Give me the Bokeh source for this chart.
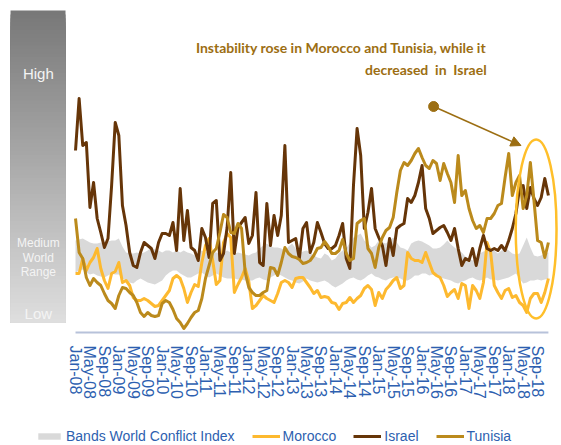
from bokeh.plotting import figure
from bokeh.layouts import column
from bokeh.models import Range1d, FixedTicker, Legend, LegendItem, Label, Arrow, NormalHead
from bokeh.embed import file_html
from bokeh.resources import INLINE

tick_labels = ["Jan-08", "May-08", "Sep-08", "Jan-09", "May-09", "Sep-09", "Jan-10", "May-10", "Sep-10",
               "Jan-11", "May-11", "Sep-11", "Jan-12", "May-12", "Sep-12", "Jan-13", "May-13", "Sep-13",
               "Jan-14", "May-14", "Sep-14", "Jan-15", "May-15", "Sep-15", "Jan-16", "May-16", "Sep-16",
               "Jan-17", "May-17", "Sep-17", "Jan-18", "May-18", "Sep-18"]

israel = [180, 232, 185, 188, 123, 148, 112, 98, 83, 92, 145, 208, 195, 125, 105, 78, 65, 63, 78, 88,
          85, 82, 72, 88, 97, 97, 95, 108, 80, 142, 90, 120, 83, 80, 70, 102, 93, 73, 127, 130,
          70, 77, 103, 158, 77, 103, 108, 113, 87, 95, 138, 68, 65, 127, 85, 115, 95, 115, 185, 88,
          90, 92, 72, 102, 108, 78, 88, 108, 98, 87, 82, 82, 85, 95, 107, 72, 62, 145, 202, 175,
          102, 118, 142, 102, 93, 85, 65, 92, 75, 102, 105, 107, 132, 128, 135, 148, 165, 122, 112, 97,
          100, 103, 105, 98, 90, 102, 82, 65, 72, 70, 82, 65, 82, 95, 82, 80, 82, 80, 85, 80,
          90, 102, 117, 142, 145, 122, 143, 132, 125, 133, 152, 135]

morocco = [57, 57, 72, 60, 68, 73, 82, 62, 50, 42, 57, 59, 68, 48, 50, 45, 33, 30, 30, 32,
           30, 27, 24, 25, 30, 35, 40, 52, 55, 52, 42, 28, 38, 46, 44, 68, 85, 92, 70, 46,
           50, 88, 97, 93, 38, 46, 53, 62, 49, 22, 25, 30, 35, 32, 30, 28, 37, 48, 50, 48,
           43, 52, 53, 53, 48, 43, 37, 40, 33, 34, 33, 28, 27, 21, 27, 28, 33, 28, 32, 35,
           42, 45, 41, 25, 38, 32, 41, 45, 50, 53, 42, 45, 78, 72, 70, 70, 68, 78, 68, 58,
           55, 53, 45, 34, 38, 41, 32, 47, 45, 22, 45, 40, 32, 48, 88, 78, 45, 38, 32, 40,
           42, 33, 35, 28, 25, 18, 32, 37, 37, 28, 38, 52]

tunisia = [112, 78, 72, 53, 45, 52, 48, 45, 37, 30, 27, 22, 35, 43, 42, 38, 35, 28, 18, 14,
           18, 15, 14, 15, 27, 30, 28, 21, 12, 8, 2, 7, 13, 18, 20, 32, 52, 65, 78, 82,
           98, 116, 113, 98, 97, 107, 102, 58, 43, 38, 35, 35, 38, 40, 63, 62, 55, 68, 83, 77,
           74, 73, 71, 67, 68, 70, 75, 82, 83, 89, 84, 77, 77, 80, 91, 77, 70, 72, 107, 110,
           112, 82, 77, 63, 83, 93, 100, 103, 113, 138, 160, 168, 165, 170, 177, 182, 173, 165, 162, 170,
           167, 150, 167, 157, 148, 128, 175, 135, 140, 122, 110, 102, 105, 98, 112, 112, 117, 125, 127, 153,
           177, 135, 148, 155, 122, 135, 168, 130, 90, 88, 73, 88]

band_hi = [90, 91, 92, 90, 88, 87, 87, 88, 87, 89, 90, 90, 92, 84, 78, 77, 77, 78, 77, 78,
           80, 83, 81, 80, 78, 80, 80, 78, 80, 78, 80, 78, 77, 75, 78, 80, 78, 80, 79, 78,
           77, 78, 80, 78, 77, 78, 77, 76, 75, 77, 78, 82, 85, 87, 84, 83, 83, 82, 80, 84,
           87, 82, 77, 79, 80, 78, 75, 73, 72, 77, 75, 70, 72, 77, 80, 82, 88, 93, 95, 97,
           90, 87, 83, 85, 90, 88, 87, 90, 93, 88, 83, 82, 80, 87, 89, 90, 89, 87, 85, 82,
           82, 83, 86, 90, 86, 83, 80, 78, 74, 72, 70, 73, 77, 79, 80, 83, 80, 77, 80, 83,
           80, 77, 76, 77, 85, 93, 83, 75, 74, 75, 77, 78]

band_lo = [58, 60, 61, 58, 56, 57, 55, 54, 53, 55, 57, 56, 56, 52, 50, 48, 47, 50, 52, 50,
           48, 47, 46, 48, 50, 55, 58, 60, 60, 57, 55, 53, 53, 55, 57, 58, 55, 53, 55, 57,
           55, 53, 52, 52, 52, 51, 51, 50, 50, 50, 52, 53, 51, 50, 53, 55, 57, 55, 53, 51,
           50, 48, 47, 49, 52, 50, 49, 48, 49, 50, 48, 45, 43, 45, 47, 50, 52, 53, 51, 50,
           52, 55, 57, 54, 53, 51, 50, 52, 53, 53, 52, 50, 50, 52, 55, 55, 57, 57, 55, 56,
           54, 53, 52, 51, 50, 48, 47, 49, 50, 52, 53, 51, 50, 51, 53, 51, 51, 50, 51, 52,
           53, 55, 57, 52, 47, 48, 50, 50, 51, 50, 51, 52]

months = list(range(len(israel)))

BLUE = "#2d5fb0"
C_BAND = "#d9d9d9"
C_MOR = "#fdb92f"
C_ISR = "#663508"
C_TUN = "#bb8a1c"
C_NOTE = "#9c6e12"
W = 560

p = figure(width=W, height=415, output_backend="svg", toolbar_location=None,
           x_range=Range1d(-20.78, 134.35), y_range=Range1d(-4, 330),
           min_border_left=0, min_border_right=0, min_border_top=0, min_border_bottom=81)
p.outline_line_color = None
p.xgrid.visible = False
p.ygrid.visible = False
p.yaxis.visible = False

ax = p.xaxis[0]
ax.ticker = FixedTicker(ticks=[i * 4 for i in range(len(tick_labels))])
ax.major_label_overrides = {i * 4: t for i, t in enumerate(tick_labels)}
ax.major_label_orientation = "vertical"
ax.major_label_text_font = "Liberation Sans"
ax.major_label_text_font_size = "16px"
ax.major_label_text_color = BLUE
ax.major_label_standoff = 5
ax.axis_line_color = None
ax.major_tick_line_color = None
ax.minor_tick_line_color = None

# left gradient scale bar (stacked strips, each reaching the bar bottom: no seams)
n = 80
top_c, bot_c = (0x78, 0x78, 0x78), (0xdf, 0xdf, 0xdf)
y0, y1 = 8, 320
for k in range(n):
    t = (k + 0.5) / n
    c = tuple(int(top_c[j] + (bot_c[j] - top_c[j]) * t) for j in range(3))
    col = "#%02x%02x%02x" % c
    p.quad(left=-18.0, right=-2.77, top=y1 - (y1 - y0) * k / n,
           bottom=y0, fill_color=col, line_color=None)

for txt, yy, fs in [("High", 257, "15px"), ("Medium", 88, "12px"), ("World", 73, "12px"),
                    ("Range", 59, "12px"), ("Low", 17, "15px")]:
    p.add_layout(Label(x=-10.3, y=yy, text=txt, text_align="center", text_baseline="middle",
                       text_font="Liberation Sans", text_font_size=fs, text_color="#f4f4f4"))

band = p.varea(x=months, y1=band_lo, y2=band_hi, fill_color=C_BAND)
p.line(months, morocco, line_color=C_MOR, line_width=3, line_join="round")
p.line(months, israel, line_color=C_ISR, line_width=3, line_join="round")
p.line(months, tunisia, line_color=C_TUN, line_width=3, line_join="round")

# axis baseline
p.line([months[0], months[-1]], [-2, -2], line_color="#b7c2da", line_width=2)

# annotation
p.add_layout(Label(x=113.9, y=283, text="Instability rose in Morocco and Tunisia, while it",
                   text_align="right", text_baseline="middle", text_font="Lato",
                   text_font_style="bold", text_font_size="14px", text_color=C_NOTE))
p.add_layout(Label(x=113.9, y=261, text="decreased\u00a0 in\u00a0 Israel",
                   text_align="right", text_baseline="middle", text_font="Lato",
                   text_font_style="bold", text_font_size="14px", text_color=C_NOTE))
p.scatter([99.2], [224], size=10, fill_color=C_NOTE, line_color=C_NOTE)
p.add_layout(Arrow(end=NormalHead(size=10, fill_color=C_NOTE, line_color=C_NOTE),
                   x_start=99.2, y_start=224, x_end=123.4, y_end=185,
                   line_color=C_NOTE, line_width=1.5))
p.ellipse(x=127.6, y=101.5, width=11.3, height=179, fill_color=None,
          line_color="#ffbf2a", line_width=2.5)

# legend strip
q = figure(width=W, height=29, output_backend="svg", toolbar_location=None,
           x_range=Range1d(0, 1), y_range=Range1d(0, 1),
           min_border_left=0, min_border_right=0, min_border_top=0, min_border_bottom=0)
q.axis.visible = False
q.xgrid.visible = False
q.ygrid.visible = False
q.outline_line_color = None
g_band = q.varea(x=[2, 3], y1=[2, 2], y2=[2, 2], fill_color=C_BAND)
g_mor = q.line([2, 3], [2, 2], line_color=C_MOR, line_width=3)
g_isr = q.line([2, 3], [2, 2], line_color=C_ISR, line_width=3)
g_tun = q.line([2, 3], [2, 2], line_color=C_TUN, line_width=3)
legend = Legend(items=[LegendItem(label="Bands World Conflict Index", renderers=[g_band]),
                       LegendItem(label="Morocco", renderers=[g_mor]),
                       LegendItem(label="Israel", renderers=[g_isr]),
                       LegendItem(label="Tunisia", renderers=[g_tun])],
                orientation="horizontal", location=(35, 0),
                glyph_width=28, glyph_height=8, label_height=16, label_standoff=3,
                spacing=17, padding=0, margin=0, border_line_color=None,
                background_fill_alpha=0, label_text_font="Liberation Sans",
                label_text_font_size="14px", label_text_color=BLUE)
q.add_layout(legend, "center")

open("out.html", "w").write(file_html(column(p, q, spacing=0), INLINE))
